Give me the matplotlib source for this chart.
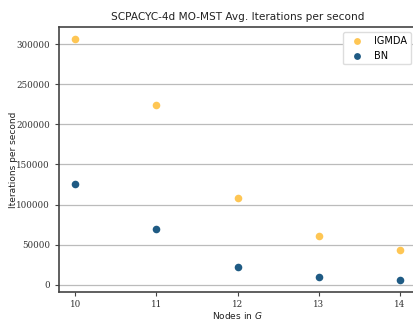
import matplotlib
matplotlib.use("Agg")
import matplotlib.pyplot as plt

nodes = [10, 11, 12, 13, 14]
igmda = [306600, 223700, 108700, 61200, 42900]
bn = [126200, 69500, 22500, 9500, 5800]
yticks = [0, 50000, 100000, 150000, 200000, 250000, 300000]

fig = plt.figure(figsize=(4.14, 3.22), dpi=100)
ax = fig.add_axes([59/414, 1-292/322, 357/414, 265/322])

ax.scatter(nodes, igmda, s=30, color="#fec654", label="IGMDA", zorder=3, linewidths=0)
ax.scatter(nodes, bn, s=30, color="#1f5b84", label="BN", zorder=3, linewidths=0)

ax.set_xticks(nodes)
ax.set_yticks(yticks)
ax.yaxis.grid(True, color="#bbbbbb", linewidth=0.9)
ax.set_axisbelow(True)
for side in ["left", "bottom", "top", "right"]:
    ax.spines[side].set_color("#444444")
    ax.spines[side].set_linewidth(1.2)
ax.tick_params(labelsize=6.3, length=3, color="#444444")
ax.tick_params(axis="x", pad=3)
for lab in ax.get_xticklabels() + ax.get_yticklabels():
    lab.set_family("DejaVu Serif")
    lab.set_color("#333333")

ax.set_title("SCPACYC-4d MO-MST Avg. Iterations per second", fontsize=7.6, color="#222222", pad=5)
ax.set_xlabel("Nodes in $G$", fontsize=6.5, color="#222222")
ax.set_ylabel("Iterations per second", fontsize=6.5, color="#222222")
ax.xaxis.set_label_coords(0.5, -23.5/265, transform=ax.transAxes)
ax.yaxis.set_label_coords(-45/357, 0.5, transform=ax.transAxes)
ax.xaxis.label.set_va("center")
ax.yaxis.label.set_va("center")
ax.legend(loc="upper right", fontsize=7, framealpha=1, edgecolor="#dddddd", markerscale=0.9)

fig.savefig("out.png", dpi=100)
